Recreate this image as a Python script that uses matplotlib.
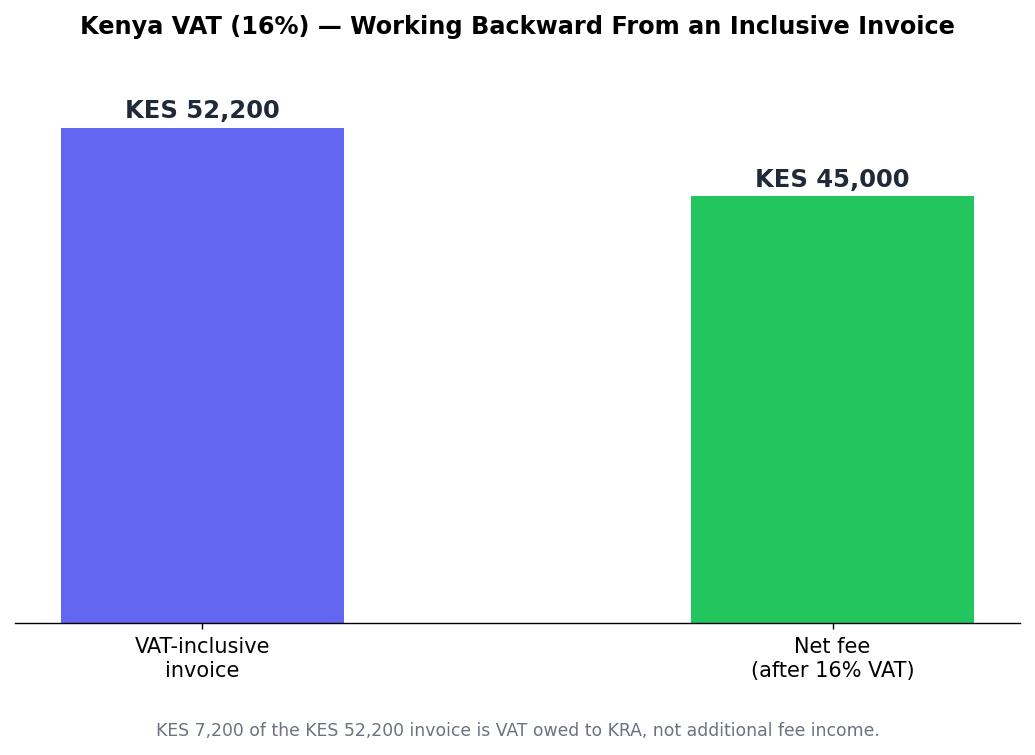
import matplotlib
matplotlib.use("Agg")
import matplotlib.pyplot as plt

categories = ["VAT-inclusive\ninvoice", "Net fee\n(after 16% VAT)"]
values = [52200, 45000]
bar_labels = ["KES 52,200", "KES 45,000"]
colors = ["#6366f1", "#22c55e"]

fig = plt.figure(figsize=(10.35, 7.55), dpi=100)
ax = fig.add_axes([0.0145, 0.1748, 0.971, 0.7537])

x = range(len(categories))
bars = ax.bar(x, values, width=0.45, color=colors)
for b, lab in zip(bars, bar_labels):
    ax.text(b.get_x() + b.get_width() / 2, b.get_height() + 500, lab,
            ha="center", va="bottom", fontsize=17.5, fontweight="bold", color="#1f2937")

ax.set_ylim(0, 52200 * 1.15)
ax.set_xticks(list(x))
ax.set_xticklabels(categories, fontsize=15)
ax.tick_params(axis="x", length=4.4, width=1.0, pad=6)
ax.spines["bottom"].set_linewidth(1.0)
ax.set_yticks([])
for s in ["left", "right", "top"]:
    ax.spines[s].set_visible(False)

fig.suptitle("Kenya VAT (16%) \u2014 Working Backward From an Inclusive Invoice",
             fontsize=17.3, fontweight="bold", y=0.98)
fig.text(0.5, 0.032, "KES 7,200 of the KES 52,200 invoice is VAT owed to KRA, not additional fee income.",
         ha="center", va="center", fontsize=12.4, color="#6b7280")

fig.savefig("out.png", dpi=100)
